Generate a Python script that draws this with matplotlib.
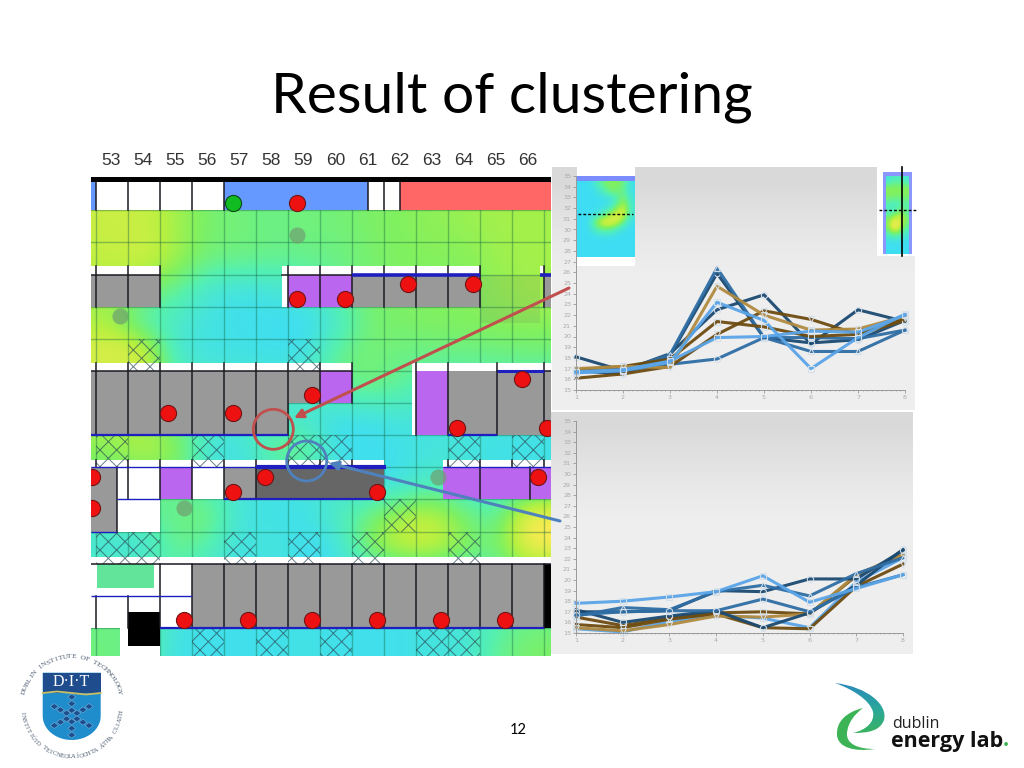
import numpy as np
import matplotlib
matplotlib.use('Agg')
import matplotlib.pyplot as plt
from matplotlib.colors import LinearSegmentedColormap
from matplotlib.patches import Rectangle, Circle, PathPatch, Polygon
from matplotlib.path import Path
from matplotlib.ticker import MultipleLocator

W, H = 1024, 768
plt.rcParams['hatch.linewidth'] = 0.7

# comfort values, one row per floor plan row, columns 53..67
heat_rows = [
    [.60, .60, .50, .38, .36, .33, .36, .36, .40, .42, .45, .47, .50, .50, .50],
    [.58, .63, .50, .36, .36, .33, .33, .33, .38, .42, .42, .42, .48, .50, .50],
    [.50, .40, .30, .12, .06, .10, .15, .30, .38, .40, .42, .42, .45, .50, .50],
    [.50, .20, .15, .08, .04, .03, .00, .12, .38, .40, .42, .42, .45, .45, .45],
    [.70, .75, .12, .08, .08, .06, .05, .33, .38, .33, .33, .33, .33, .35, .35],
    [.50, .50, .30, .20, .15, .15, .20, .30, .36, .30, .20, .20, .20, .20, .20],
    [.50, .50, .30, .20, .15, .15, .10, .04, .04, .10, .10, .10, .10, .10, .10],
    [.45, .55, .50, .08, .04, .35, .40, .04, .03, .05, .10, .10, .05, .05, .05],
    [.30, .30, .30, .20, .10, .10, .10, .10, .05, .05, .20, .10, .10, .10, .10],
    [.30, .30, .33, .40, .10, .05, .05, .20, .35, .55, .60, .40, .25, .80, .80],
    [.05, .05, .35, .25, .05, .15, .02, .05, .45, .60, .62, .45, .35, .75, .75],
    [.33, .33, .20, .10, .05, .05, .05, .05, .05, .05, .10, .10, .20, .30, .30],
    [.33, .33, .10, .05, .05, .05, .05, .05, .05, .05, .10, .10, .20, .30, .30],
    [.35, .30, .05, .05, .05, .05, .08, .05, .05, .05, .10, .10, .30, .40, .40],
]
column_labels = [str(c) for c in range(53, 67)]

thumb_left = [
    [.02, .02, .15, .35, .42, .42, .35, .05],
    [.02, .02, .05, .20, .40, .40, .30, .05],
    [.02, .02, .02, .05, .05, .20, .42, .10],
    [.02, .02, .02, .02, .10, .35, .60, .15],
    [.02, .02, .05, .20, .45, .70, .65, .12],
    [.02, .02, .40, .70, .75, .65, .30, .05],
    [.02, .02, .20, .30, .30, .15, .05, .02],
    [.02, .02, .02, .03, .03, .02, .02, .02],
    [.02, .02, .02, .02, .02, .02, .02, .02],
    [.02, .02, .02, .02, .02, .02, .02, .02],
]
thumb_right = [
    [.10, .20, .20, .20, .10],
    [.45, .45, .45, .45, .45],
    [.42, .42, .40, .42, .42],
    [.25, .20, .20, .25, .25],
    [.20, .15, .30, .40, .25],
    [.40, .60, .70, .60, .40],
    [.45, .80, .75, .50, .30],
    [.20, .30, .30, .20, .10],
    [.03, .03, .03, .03, .03],
    [.03, .03, .03, .03, .03],
]

x_days = [1, 2, 3, 4, 5, 6, 7, 8]
y_ticks = list(range(15, 36))
navy, mid, light, brown, tan = '#1B4A72', '#2F6EA5', '#5AA5E8', '#6E4C10', '#B08A40'

upper_a = [18.1, 16.8, 18.4, 22.5, 23.9, 19.3, 22.5, 21.4]
upper_b = [16.8, 16.5, 18.2, 25.9, 19.9, 19.4, 19.7, 21.5]
upper_c = [16.7, 16.8, 18.3, 26.4, 19.9, 18.6, 18.6, 20.6]
upper_d = [16.8, 16.8, 17.4, 17.9, 19.9, 19.9, 19.8, 20.6]
upper_g = [16.9, 17.2, 17.9, 21.4, 20.9, 20.0, 20.2, 21.5]
upper_h = [16.1, 16.5, 17.2, 20.2, 22.4, 21.6, 20.2, 21.7]
upper_i = [17.0, 17.2, 17.1, 24.7, 22.0, 20.6, 20.7, 21.9]
upper_e = [16.6, 16.8, 17.6, 23.2, 21.5, 17.0, 19.9, 22.1]
upper_f = [16.7, 16.9, 17.7, 19.9, 20.0, 20.5, 20.4, 22.0]
upper_series = [upper_a, upper_b, upper_c, upper_d, upper_g, upper_h, upper_i, upper_e, upper_f]
upper_order = [(navy, 'o'), (navy, 'o'), (mid, '^'), (mid, 'o'), (brown, 's'),
               (brown, 'v'), (tan, 'v'), (light, 's'), (light, 's')]

lower_a = [17.2, 16.0, 16.6, 17.1, 15.5, 16.9, 19.5, 22.9]
lower_b = [17.0, 17.0, 17.1, 19.0, 18.9, 20.1, 20.1, 22.8]
lower_c = [16.6, 17.4, 17.2, 18.9, 19.5, 18.5, 20.6, 22.1]
lower_d = [16.7, 17.0, 17.1, 17.1, 18.2, 17.0, 19.3, 20.5]
lower_e = [15.4, 15.1, 16.1, 16.7, 16.4, 15.5, 19.8, 22.1]
lower_f = [16.5, 15.7, 16.4, 16.9, 17.0, 16.8, 20.4, 22.4]
lower_g = [15.8, 15.5, 16.3, 16.8, 15.5, 15.4, 19.4, 21.5]
lower_h = [15.5, 15.2, 15.8, 16.6, 16.5, 16.8, 20.5, 22.4]
lower_i = [17.8, 18.0, 18.4, 18.9, 20.4, 17.9, 19.2, 20.5]
lower_series = [lower_e, lower_f, lower_g, lower_h, lower_a, lower_b, lower_c, lower_d, lower_i]
lower_order = [(light, 's'), (brown, 's'), (brown, 'v'), (tan, 'v'), (navy, 'o'),
               (navy, 'o'), (mid, '^'), (mid, 'o'), (light, 's')]

# floor plan, in (col0, col1, row0, row1, colour)
GREY, PURPLE, DARK, WHITE = '#999999', '#BB66EE', '#666666', '#FFFFFF'
L, R = 52.84, 67.22
rooms = [
    (L, R, -1.03, -.87, '#000000'),
    (L, R, -.87, 0, WHITE), (L, 53, -.87, 0, '#6699FF'), (57, 61.5, -.87, 0, '#6699FF'),
    (62.5, R, -.87, 0, '#FF6666'),
    (L, 55, 1.72, 2, WHITE), (58.8, 65, 1.72, 2, WHITE), (58.8, 59, 2, 3, WHITE), (66.88, 67, 1.72, 2, WHITE),
    (L, 55, 2, 3, GREY), (59, 61, 2, 3, PURPLE), (61, 65, 2, 3, GREY), (67, R, 2, 3, GREY),
    (L, 61, 4.76, 5, WHITE), (62.875, 67, 4.76, 5, WHITE), (67, R, 4.76, 5, WHITE),
    (L, 59, 5, 7, GREY), (59, 60, 5, 6, GREY), (60, 61, 5, 6, PURPLE),
    (62.875, 63, 5, 7, WHITE), (63, 64, 5, 7, PURPLE), (64, R, 5, 7, GREY),
    (L, 62, 7.78, 8, WHITE), (63.84, R, 7.78, 8, WHITE),
    (L, 53.66, 8, 10, GREY), (53.66, 55, 8, 10, WHITE), (55, 56, 8, 9, PURPLE), (56, 57, 8, 9, WHITE),
    (57, 58, 8, 9, GREY), (58, 62, 8, 9, DARK), (63.84, R, 8, 9, PURPLE),
    (L, R, 10.78, 11, WHITE), (L, 56, 11, 13, WHITE), (56, 67, 11, 13, GREY), (67, R, 11, 13, '#000000'),
    (53.03, 54.8, 11, 11.75, '#62E49A'), (54, 55, 12.5, 13.55, '#000000'),
    (53.75, 54, 13, 13.87, WHITE), (54, 55, 13.55, 13.87, WHITE),
]
hatches = [
    (54, 55, 4, 5), (59, 60, 4, 5), (53, 54, 7, 8), (56, 57, 7, 8), (59, 60, 7, 8), (60, 61, 7, 8),
    (64, 65, 7, 8), (66, 67, 7, 8), (62, 63, 9, 10), (53, 54, 10, 11), (54, 55, 10, 11), (57, 58, 10, 11),
    (59, 60, 10, 11), (61, 62, 10, 11), (64, 65, 10, 11), (56, 57, 13, 13.87), (58, 59, 13, 13.87),
    (60, 61, 13, 13.87), (63, 64, 13, 13.87), (64, 65, 13, 13.87),
]
# walls: (row0, row1, columns)
walls = [
    (-.87, 0, [53, 54, 55, 56, 57, 61.5, 62, 62.5]),
    (1.72, 3, [53, 54, 55, 59, 60, 61, 62, 63, 64, 65, 67]),
    (4.76, 7, [53, 54, 55, 56, 57, 58, 59, 63, 64, 65.54, 67]),
    (4.76, 6, [60, 61]),
    (7.78, 8, [53, 54, 55, 56, 57, 58, 59, 60, 61, 64, 65, 66, 67]),
    (8, 9, [54, 55, 56, 57, 58, 65, 66.56]),
    (8, 10, [53.66]),
    (11, 13, [56, 57, 58, 59, 60, 61, 62, 63, 64, 65, 66, 67, 55]),
    (12, 13, [53, 54]),
]
blue_lines = [
    (61, 65, 2, 2.6), (66.88, R, 2, 2.6), (65.54, 67, 5, 2.2), (L, 59, 7, 1.6), (64, 65.54, 7, 1.6),
    (58, 62.06, 8, 3), (57, 62, 9, 1.6), (55, 67, 13, 1.6),
    (L, 62, 8, 1), (53.66, 55, 9, 1), (L, 53.66, 10, 1), (L, 56, 12, 1), (63.84, R, 8, 1),
]
black_lines = [(L, 55, 2), (58.8, 61, 2), (L, 61, 5), (65.54, R, 5), (L, R, 11)]
red_cols = [59.27, 59.27, 60.77, 62.76, 64.78, 66.3, 59.76, 55.26, 57.27, 64.29, 67.1, 58.28, 57.27, 61.77,
            66.8, 52.87, 52.87, 55.76, 57.76, 59.76, 61.77, 63.77, 65.78]
red_rows = [-.22, 2.77, 2.77, 2.3, 2.3, 5.26, 5.75, 6.3, 6.3, 6.79, 6.79, 8.3, 8.76, 8.76,
            8.3, 8.3, 9.27, 12.75, 12.75, 12.75, 12.75, 12.75, 12.75]
faded_cols = [59.28, 53.75, 55.76, 63.69]
faded_rows = [.78, 3.29, 9.28, 8.3]


def px_axes(x0, y0, x1, y1):
    return fig.add_axes([x0 / W, 1 - y1 / H, (x1 - x0) / W, (y1 - y0) / H])


fig = plt.figure(figsize=(W / 100, H / 100), dpi=100, facecolor='white')
heat_cmap = LinearSegmentedColormap.from_list('comfort', [
    (0, '#7B8CFF'), (.23, '#3CDCFA'), (.42, '#55F0B0'), (.55, '#80F060'), (.65, '#B8F040'),
    (.8, '#F5EC4F'), (1, '#F8A850')])

# floor plan
ax = px_axes(91, 146, 551, 656)
ax.set_xlim(L, R)
ax.set_ylim(13.87, -2.0)
ax.axis('off')
heat = np.pad(np.array(heat_rows), ((0, 0), (1, 1)), mode='edge')
im = ax.imshow(heat, extent=(52, 69, 14, 0), cmap=heat_cmap, vmin=-.3, vmax=1, aspect='auto',
               interpolation='bicubic', zorder=1)
im.set_clip_path(Rectangle((L, 0), R - L, 13.87, transform=ax.transData))
ax.set_xlim(L, R)
ax.set_ylim(13.87, -2.0)
for c in range(53, 68):
    ax.plot([c, c], [0, 13.87], color='#106040', alpha=.38, lw=1, zorder=2)
for r in range(0, 14):
    ax.plot([L, R], [r, r], color='#106040', alpha=.38, lw=1, zorder=2)
ax.add_patch(Rectangle((65, 2), 1.88, 1.5, fc='#606060', alpha=.13, lw=0, zorder=2))
for c0, c1, r0, r1, col in rooms:
    ax.add_patch(Rectangle((c0, r0), c1 - c0, r1 - r0, fc=col, lw=0, zorder=3))
for c0, c1, r0, r1 in hatches:
    ax.add_patch(Rectangle((c0, r0), c1 - c0, r1 - r0, fill=False, hatch='xx', ec='#2A4A55', lw=0, alpha=.7, zorder=4))
for r0, r1, cols in walls:
    for c in cols:
        ax.plot([c, c], [r0, r1], color='#1A1A22', lw=1.1, zorder=5)
for c0, c1, r in black_lines:
    ax.plot([c0, c1], [r, r], color='#1A1A22', lw=1.1, zorder=5)
for c0, c1, r, lw in blue_lines:
    ax.plot([c0, c1], [r, r], color='#1F1FBF', lw=lw, zorder=5, solid_capstyle='butt')
ax.scatter(red_cols, red_rows, s=135, c='#EE1111', edgecolors='#701515', linewidths=.8, zorder=6)
ax.scatter([57.27], [-.22], s=135, c='#11BB22', edgecolors='#0C4A14', linewidths=.8, zorder=6)
ax.scatter(faded_cols, faded_rows, s=135, c='#6F9F70', alpha=.7, linewidths=0, zorder=6)
for i, lab in enumerate(column_labels):
    ax.text(53.48 + i, -1.55, lab, ha='center', va='center', fontsize=12.5, color='#333333',
            family='Liberation Sans', zorder=7)


def draw_panel(box, plot_box, series, styles):
    back = px_axes(*box)
    back.imshow(np.array([[.85], [.88], [.91], [.93], [.93], [.93], [.93], [.93]]), aspect='auto', cmap='gray',
                vmin=0, vmax=1, interpolation='bilinear')
    back.axis('off')
    a = px_axes(*plot_box)
    a.patch.set_alpha(0)
    for values, (col, mk) in zip(series, styles):
        a.plot(x_days, values, color=col, lw=2.2, marker=mk, ms=4.5, mfc='none', mec='#D5E0EA', mew=.8,
               clip_on=False, alpha=.95)
    a.set_xlim(1, 8)
    a.set_ylim(15, 35)
    a.set_xticks(x_days)
    a.set_yticks(y_ticks)
    a.xaxis.set_minor_locator(MultipleLocator(.1))
    a.tick_params(axis='both', labelsize=4.6, labelcolor='#AAAAAA', color='#888888', length=2, width=.5, pad=1.5)
    a.tick_params(axis='x', which='minor', length=1, width=.4, color='#888888')
    for s in ('top', 'right'):
        a.spines[s].set_visible(False)
    for s in ('left', 'bottom'):
        a.spines[s].set_color('#999999')
        a.spines[s].set_linewidth(.7)
    return a


draw_panel((552, 167, 915, 410), (576, 176, 905, 390), upper_series, upper_order)
draw_panel((551, 412, 913, 654), (576, 421, 903, 633), lower_series, lower_order)

# small thumbnails over the upper panel
tl = px_axes(577, 167, 635, 266)
tl.set_facecolor('white')
tl.imshow(thumb_left, extent=(0, 1, 257, 180), cmap=heat_cmap, vmin=-.3, vmax=1, aspect='auto', interpolation='bicubic')
tl.add_patch(Rectangle((0, 176), 1, 4.5, fc='#7B8CFF', lw=0))
tl.set_xlim(0, 1)
tl.set_ylim(266, 167)
tl.set_xticks([])
tl.set_yticks([])
for s in tl.spines.values():
    s.set_visible(False)

tr = px_axes(877, 167, 916, 256)
tr.set_facecolor('white')
tr.add_patch(Rectangle((6, 172), 29, 82, fc='#8C96FF', lw=0, zorder=1))
tr.imshow(thumb_right, extent=(9, 32, 254, 176), cmap=heat_cmap, vmin=-.3, vmax=1, aspect='auto',
          interpolation='bicubic', zorder=2)
tr.set_xlim(0, 39)
tr.set_ylim(256, 167)
tr.set_xticks([])
tr.set_yticks([])
for s in tr.spines.values():
    s.set_visible(False)

# overlay in pixel coordinates: arrows, circles, title, logos
ov = fig.add_axes([0, 0, 1, 1])
ov.patch.set_alpha(0)
ov.axis('off')
ov.set_xlim(0, W)
ov.set_ylim(H, 0)

ov.plot([578, 633], [213.5, 213.5], color='black', lw=1, ls=(0, (2, 1.5)))
ov.plot([879, 916], [210, 210], color='black', lw=1, ls=(0, (2, 1.5)))
ov.plot([902, 902], [167, 256], color='black', lw=1.2)

RED, BLUE = '#C0504D', '#4F81BD'
ov.annotate('', xy=(294, 418), xytext=(569, 288),
            arrowprops=dict(arrowstyle='-|>', color=RED, lw=2.2, shrinkA=0, shrinkB=0, mutation_scale=13))
ov.annotate('', xy=(329, 463), xytext=(560, 521),
            arrowprops=dict(arrowstyle='-|>', color=BLUE, lw=2.2, shrinkA=0, shrinkB=0, mutation_scale=13))
ov.add_patch(Circle((273.3, 429.3), 20, fill=False, ec=RED, lw=2))
ov.add_patch(Circle((306.7, 461), 20, fill=False, ec=BLUE, lw=2))

ov.text(512, 97, 'Result of clustering', ha='center', va='center', fontsize=41, color='black', family='Lato')
ov.text(518, 730, '12', ha='center', va='center', fontsize=10.5, color='black', family='Lato')

# DIT logo
cx, cy, rad = 71.7, 706.7, 50
top_txt = 'DUBLIN INSTITUTE OF TECHNOLOGY'
for ch, th in zip(top_txt, np.linspace(163, 17, len(top_txt))):
    t = np.radians(th)
    ov.text(cx + rad * np.cos(t), cy - rad * np.sin(t), ch, rotation=th - 90, ha='center', va='center',
            fontsize=5.3, color='#4A5A70', family='Liberation Serif')
low_txt = 'INSTITIÚID TEICNEOLAÍOCHTA ÁTHA CLIATH'
for ch, th in zip(low_txt, np.linspace(187, 353, len(low_txt))):
    t = np.radians(th)
    ov.text(cx + rad * np.cos(t), cy - rad * np.sin(t), ch, rotation=th + 90, ha='center', va='center',
            fontsize=4.8, color='#4A5A70', family='Liberation Serif')
s = np.linspace(0, np.pi, 30)
shield = np.vstack([[100.7, 672.7], np.column_stack([71.7 + 29 * np.cos(s), 716 + 24 * np.sin(s)]), [42.7, 672.7]])
ov.add_patch(Polygon(shield, closed=True, fc='#1F8CCB', ec='none'))
ov.add_patch(Rectangle((42.7, 672.7), 58, 20, fc='#1E4C8C', ec='none'))
ov.plot([42.7, 57, 72, 86, 100.7], [693, 691.5, 693, 694.5, 693], color='#C9BE63', lw=1.3)
ov.text(71.7, 682.5, 'D·I·T', ha='center', va='center', fontsize=11.5, color='white', family='Liberation Serif')
for th in range(90, 450, 60):
    t = np.radians(th)
    for d in (6, 13, 20):
        px, py = 71.7 + d * np.cos(t), 716 - d * np.sin(t) * .95
        ov.add_patch(Polygon([(px - 4, py), (px, py - 3), (px + 4, py), (px, py + 3)], fc='#1D4F8E', ec='#8FC5E8', lw=.3))

# energy lab logo
blue_arc = Path([(835, 683), (868, 687), (888, 705), (884, 720), (880, 731), (868, 733), (853, 733),
                 (866, 730), (875, 722), (873, 712), (870, 700), (852, 689), (835, 683)],
                [Path.MOVETO] + [Path.CURVE4] * 12)
green_arc = Path([(863, 708), (846, 712), (836, 722), (837, 735), (838, 748), (855, 752), (875, 749),
                  (858, 749), (846, 744), (847, 733), (848, 722), (855, 714), (863, 708)],
                 [Path.MOVETO] + [Path.CURVE4] * 12)
ramp = LinearSegmentedColormap.from_list('sw', ['#2B86C0', '#2AA79A', '#3CB455'])
g = ov.imshow(np.linspace(0, 1, 64).reshape(-1, 1), extent=(830, 892, 738, 680), cmap=ramp, aspect='auto')
g.set_clip_path(PathPatch(blue_arc, transform=ov.transData))
ov.add_patch(PathPatch(green_arc, fc='#3CB455', ec='none'))
ov.set_xlim(0, W)
ov.set_ylim(H, 0)
ov.text(892, 724.5, 'dublin', ha='left', va='center', fontsize=11.5, color='#222222', family='Open Sans')
ov.text(891, 741, 'energy lab', ha='left', va='center', fontsize=15.5, color='#111111', family='Open Sans', weight='bold')
ov.text(1003, 741, '.', ha='left', va='center', fontsize=15.5, color='#3CB455', family='Open Sans', weight='bold')

fig.savefig('out.png', dpi=100)
